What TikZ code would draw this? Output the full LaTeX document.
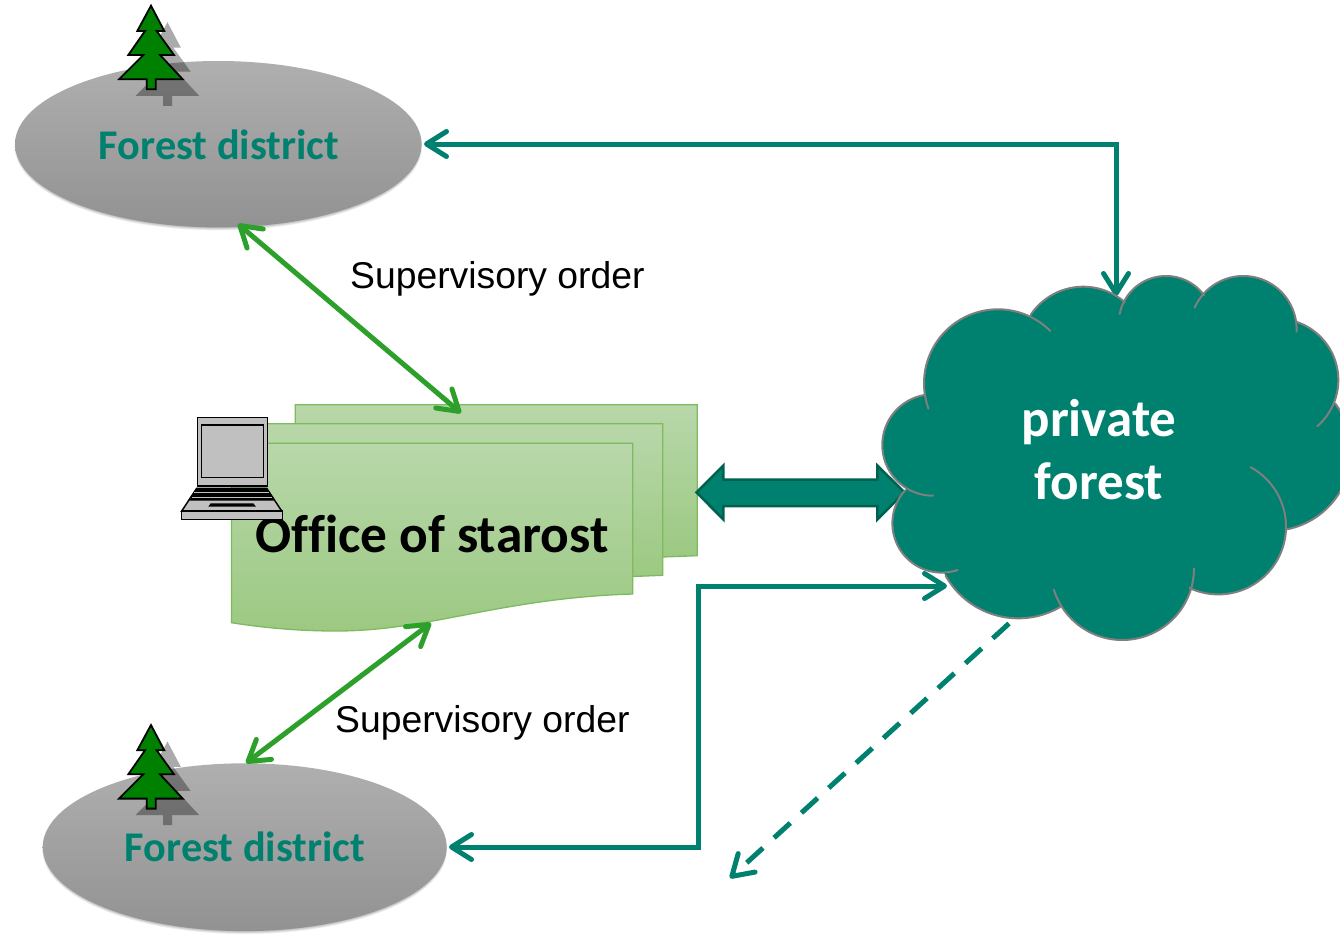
\documentclass[tikz,border=0pt]{standalone}
\usepackage{fontspec}
\setmainfont{Carlito}[Ligatures=NoCommon]
\newfontfamily\arialf{Liberation Sans}
\usetikzlibrary{arrows.meta,shapes.geometric}
\definecolor{teal1}{HTML}{00806E}
\definecolor{tealdark}{HTML}{00614F}
\definecolor{green1}{HTML}{2CA02A}
\definecolor{greygrad1}{HTML}{AFAFAF}
\definecolor{greygrad2}{HTML}{929292}
\definecolor{docedge}{HTML}{7FBA5E}
\definecolor{doctop}{HTML}{B8D7AA}
\definecolor{docbot}{HTML}{9CC982}
\definecolor{treegreen}{HTML}{008000}
\definecolor{lapgrey}{HTML}{C0C0C0}
\definecolor{cloudedge}{HTML}{7F7F7F}
\tikzset{
  barb/.tip={Straight Barb[length=20pt,width=25pt,round,line width=5pt]},
  tealline/.style={draw=teal1,line width=5pt},
  greenline/.style={draw=green1,line width=5pt,line cap=round},
  docsheet/.style={draw=docedge,line width=1.3pt,top color=doctop,bottom color=docbot},
  district/.style={ellipse,inner sep=0pt,top color=greygrad1,bottom color=greygrad2},
  districttext/.style={font=\bfseries\fontsize{42.3}{44}\selectfont,text=teal1,inner sep=0pt,anchor=base},
  supertext/.style={font=\arialf\fontsize{37.3}{40}\selectfont,text=black,inner sep=0pt,anchor=base west},
  treefill/.style={fill=treegreen,draw=black,line width=1.8pt,line join=miter},
  treeshadow/.style={fill=black,opacity=.33},
  lapbody/.style={fill=lapgrey,draw=black,line width=1.5pt},
}
\newcommand{\treeoutline}{(151,5.7) -- (164.3,31) -- (156.7,31) -- (174,55) -- (160,55) -- (182.7,79.3) -- (155.7,79.3) -- (155.7,89.3) -- (146.7,89.3) -- (146.7,79.3) -- (119,79.3) -- (143.3,55) -- (128.3,55) -- (145,31) -- (137.3,31) -- cycle}
\newcommand{\foresttree}[1]{%
  \begin{scope}[yshift=-#1pt]
    \fill[treeshadow,xshift=16.5pt,yshift=-16.5pt] \treeoutline;
    \path[treefill] \treeoutline;
  \end{scope}}
\newcommand{\softshadow}[4]{%
  \foreach \k in {0,1,2,3,4,5}{
    \fill[black,opacity=.05] (#1,#2+2.5) ellipse [x radius={#3+\k*0.6-2.5}, y radius={#4+\k*0.6-2.5}];
  }}
\newcommand{\lobefill}[3]{\fill[teal1] (#1,#2) circle [radius=#3pt];}
\newcommand{\lobeline}[5]{\draw[cloudedge,line width=2pt,line cap=round]
   plot[domain=#4:#5,samples=60,variable=\t] ({#1+#3*cos(\t)},{#2+#3*sin(\t)});}
\begin{document}
\begin{tikzpicture}[x=1pt,y=-1pt]
\clip (0,0) rectangle (1340,935);
\fill[white] (0,0) rectangle (1340,935);

% documents
\path[docsheet] (295.3,404.7) -- (697.3,404.7) -- (697.3,555.7) -- (662,557) -- (295.3,557) -- cycle;
\path[docsheet] (264,423.7) -- (662.7,423.7) -- (662.7,575.3) -- (632,576.5) -- (264,576.5) -- cycle;
\path[docsheet] (231.5,443.3) -- (632.7,443.3) -- (632.7,594)
   .. controls (500,598) and (430,631) .. (336,631)
   .. controls (300,631) and (265,628) .. (231.5,622.7) -- cycle;
\node[font=\bfseries\fontsize{53.4}{56}\selectfont,text=black,inner sep=0pt,anchor=base] (office) at (432,552) {Office of starost};

% laptop
\path[lapbody] (197.3,417.7) rectangle (267.3,486);
\path[lapbody] (201.7,425) rectangle (263.3,477.3);
\path[lapbody] (196.7,488.3) -- (266.7,488.3) -- (281.7,511) -- (181.7,511) -- cycle;
\fill[black] (196.7,488.3) -- (266.7,488.3) -- (274,500.7) -- (189.3,500.7) -- cycle;
\draw[lapgrey,line width=.9pt] (194,492.3) -- (269,492.3) (191.5,497) -- (272,497);
\fill[black] (210.7,503.3) -- (253.3,503.3) -- (256,506.7) -- (208.3,506.7) -- cycle;
\path[lapbody] (181.7,511) rectangle (282.3,519.3);

% forest districts
\softshadow{218.3}{144.2}{203.3}{83.2}
\softshadow{244.7}{847.2}{202}{83.9}
\node[district,minimum width=406.6pt,minimum height=166.4pt] (fd1) at (218.3,144.2) {};
\node[district,minimum width=404pt,minimum height=167.8pt] (fd2) at (244.7,847.2) {};
\foresttree{0}
\foresttree{719.3}
\node[districttext] (fd1t) at (219,159.5) {Forest district};
\node[districttext] (fd2t) at (245,861.5) {Forest district};

% attachment points
\coordinate (a1) at (238,224);
\coordinate (a2) at (461,413);
\coordinate (b1) at (431,623);
\coordinate (b2) at (246,763);
\coordinate (c1) at (424,144);
\coordinate (c2) at (1116,296);
\coordinate (d1) at (947,586);
\coordinate (d2) at (449,847);
\coordinate (e1) at (1009,623.5);
\coordinate (e2) at (730,878);

% block arrow
\path[fill=teal1,draw=tealdark,line width=2.5pt,line join=miter]
  (696.5,492.3) -- (723.3,465.5) -- (723.3,479.5) -- (877.3,479.5) -- (877.3,465.5) -- (904.5,492.3)
  -- (877.3,519.5) -- (877.3,506) -- (723.3,506) -- (723.3,519.5) -- cycle;

% connectors
\draw[greenline,{barb}-{barb}] (a1) -- (a2);
\draw[greenline,{barb}-{barb}] (b1) -- (b2);
\draw[tealline,{barb}-{barb},line join=miter] (c1) -- (c1 -| c2) -- (c2);
\draw[tealline,{barb}-{barb},line join=miter] (d1) -- (698,586) -- (698,847) -- (d2);
\draw[draw=teal1,line width=5pt,dash pattern=on 22pt off 15pt,-{barb}] (e1) -- (e2);

% cloud
\fill[teal1] (995,383.3) -- (1083,350) -- (1166,323) -- (1243,329) -- (1277,380) -- (1271,451) -- (1218,527) -- (1122,568) -- (1018,535) -- (942,523) -- (933,445) -- cycle;
\lobefill{998}{383.3}{74}
\lobefill{1083.3}{350}{63.3}
\lobefill{1166}{323.3}{47.3}
\lobefill{1243.3}{329.3}{53.3}
\lobefill{1277}{380}{61.3}
\lobefill{1271.5}{451.2}{79.6}
\lobefill{1218.3}{526.7}{67.7}
\lobefill{1122.3}{568.3}{71.7}
\lobefill{1018.3}{535}{83.3}
\lobefill{941.7}{523.3}{49.3}
\lobefill{933}{445}{50.7}
\lobeline{998}{383.3}{74}{160}{315}
\lobeline{1083.3}{350}{63.3}{214}{311}
\lobeline{1166}{323.3}{47.3}{191.6}{323.5}
\lobeline{1243.3}{329.3}{53.3}{203.9}{362.5}
\lobeline{1277}{380}{61.3}{288}{409}
\lobeline{1271.5}{451.2}{79.6}{-37}{79}
\lobeline{1218.3}{526.7}{67.7}{-61.5}{115.3}
\lobeline{1122.3}{568.3}{71.7}{0}{162.7}
\lobeline{1018.3}{535}{83.3}{59.8}{150.8}
\lobeline{941.7}{523.3}{49.3}{71}{222}
\lobeline{933}{445}{50.7}{90}{260.6}
\node[font=\bfseries\fontsize{53}{63}\selectfont,text=white,align=center,inner sep=0pt] (cloud) at (1099,450) {private\\forest};

% labels
\node[supertext] (s1) at (350,288) {Supervisory order};
\node[supertext] (s2) at (335,732) {Supervisory order};
\end{tikzpicture}
\end{document}
